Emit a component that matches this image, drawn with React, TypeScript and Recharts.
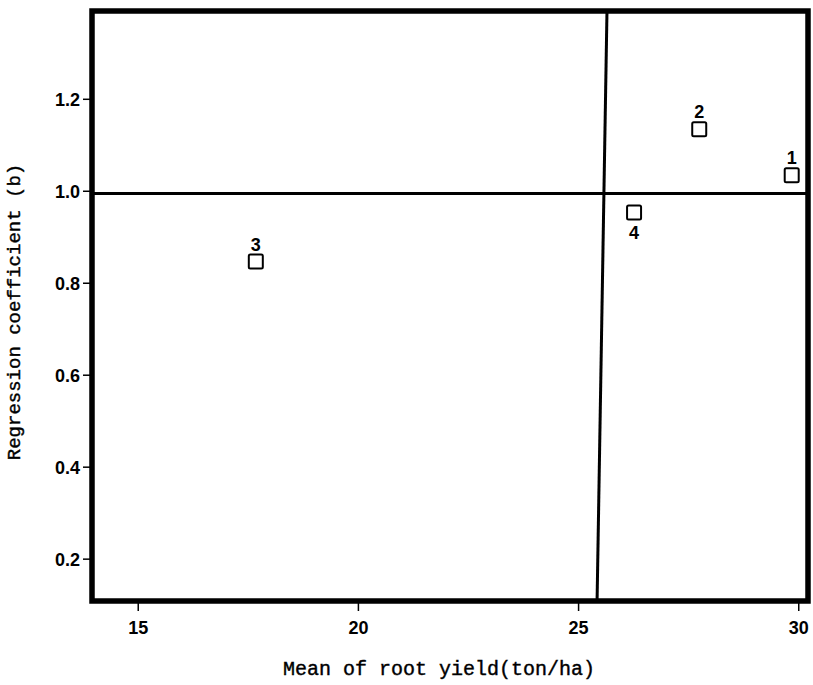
import React from 'react';
import { ScatterChart, Scatter, XAxis, YAxis, ReferenceLine, ReferenceArea, Label } from 'recharts';

const xTicks = [15, 20, 25, 30];
const yTicks = [0.2, 0.4, 0.6, 0.8, 1.0, 1.2];
const cultivarIds = ['1', '2', '3', '4'];
const meanYield = [29.84, 27.74, 17.67, 26.26];
const regressionCoef = [1.035, 1.135, 0.847, 0.954];
const labelSide = ['top', 'top', 'top', 'bottom'];
const meanDividerTopBottom = [25.645, 25.42];
const bDivider = 0.995;
const xDomain = [13.95, 30.21];
const yDomain = [0.109, 1.392];
const xTitle = 'Mean of root yield(ton/ha)';
const yTitle = 'Regression coefficient (b)';

const data = cultivarIds.map((id, i) => ({ id, x: meanYield[i], y: regressionCoef[i], side: labelSide[i] }));

const tickStyle = { fill: '#000', fontSize: 18, fontWeight: 'bold', fontFamily: 'Liberation Sans, Arial, sans-serif' };

const SquareShape = (p: any) => {
  const { cx, cy, payload } = p;
  const ty = payload.side === 'top' ? cy - 11 : cy + 27;
  return (
    <g>
      <rect x={cx - 7} y={cy - 7} width={14} height={14} rx={1.5} fill="#fff" stroke="#000" strokeWidth={2} />
      <text x={cx} y={ty} textAnchor="middle" fontSize={18} fontWeight="bold" fontFamily="Liberation Sans, Arial, sans-serif" fill="#000">{payload.id}</text>
    </g>
  );
};

const XTitle = (p: any) => {
  const vb = p.viewBox;
  const cx = vb.x + vb.width / 2 - 11;
  const y = vb.y + 74;
  return (
    <text x={cx} y={y} textAnchor="middle" fontSize={20} fontFamily="Liberation Mono, monospace" fill="#000" stroke="#000" strokeWidth={0.4}>{xTitle}</text>
  );
};

const YTitle = (p: any) => {
  const vb = p.viewBox;
  const cy = vb.y + vb.height / 2 + 6;
  const x = 20;
  return (
    <text transform={`translate(${x},${cy}) rotate(-90)`} textAnchor="middle" fontSize={19} fontFamily="Liberation Mono, monospace" fill="#000" stroke="#000" strokeWidth={0.4}>{yTitle}</text>
  );
};

export default function App() {
  return (
    <div style={{ position: 'absolute', left: 0, top: 0, background: '#fff' }}>
      <ScatterChart width={813} height={685} margin={{ top: 11, right: 5, left: 0, bottom: 0 }}>
        <XAxis
          type="number"
          dataKey="x"
          domain={xDomain}
          ticks={xTicks}
          allowDataOverflow
          axisLine={false}
          tickLine={{ stroke: '#000', strokeWidth: 1.5 }}
          tickSize={10}
          tickMargin={10}
          tick={tickStyle}
          height={84}
        >
          <Label content={<XTitle />} />
        </XAxis>
        <YAxis
          type="number"
          dataKey="y"
          domain={yDomain}
          ticks={yTicks}
          allowDataOverflow
          tickFormatter={(v: number) => v.toFixed(1)}
          axisLine={false}
          tickLine={{ stroke: '#000', strokeWidth: 1.5 }}
          tickSize={9}
          tickMargin={3}
          tick={tickStyle}
          width={92}
        >
          <Label content={<YTitle />} />
        </YAxis>
        <ReferenceLine y={bDivider} stroke="#000" strokeWidth={3} />
        <ReferenceLine
          segment={[
            { x: meanDividerTopBottom[0], y: yDomain[1] },
            { x: meanDividerTopBottom[1], y: yDomain[0] },
          ]}
          stroke="#000"
          strokeWidth={3}
        />
        <ReferenceArea x1={xDomain[0]} x2={xDomain[1]} y1={yDomain[0]} y2={yDomain[1]} fill="none" fillOpacity={0} stroke="#000" strokeWidth={5.5} />
        <Scatter data={data} shape={<SquareShape />} isAnimationActive={false} />
      </ScatterChart>
    </div>
  );
}
